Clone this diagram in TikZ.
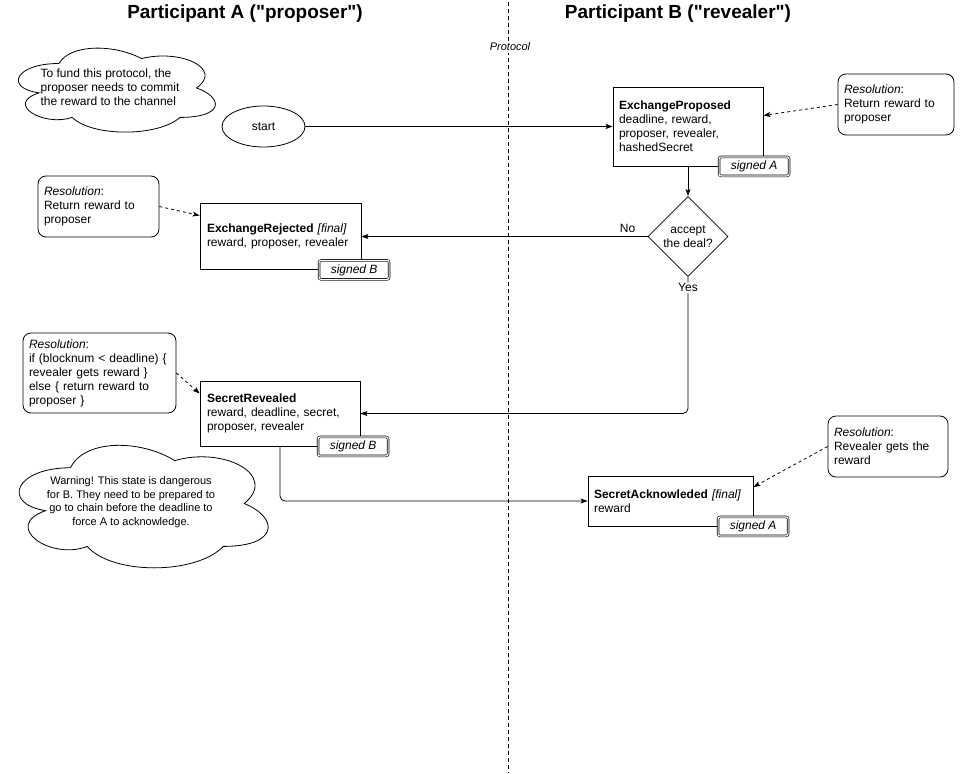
\documentclass[tikz,border=0pt]{standalone}
\usepackage{fontspec}
\setmainfont{Liberation Sans}
\usetikzlibrary{arrows.meta, shapes.geometric, positioning, calc}

% cloud outline: x, y, width, height (picture units)
\newcommand{\cloudshape}[4]{%
  \draw[fill=white, shift={(#1,#2)}, xscale=#3, yscale=#4]
    (0.25,0.25) .. controls (0.05,0.25) and (0,0.5) .. (0.16,0.55)
    .. controls (0,0.66) and (0.18,0.9) .. (0.31,0.8)
    .. controls (0.4,1) and (0.7,1) .. (0.8,0.8)
    .. controls (1,0.8) and (1,0.6) .. (0.875,0.5)
    .. controls (1,0.3) and (0.8,0.1) .. (0.625,0.2)
    .. controls (0.5,0.05) and (0.3,0.05) .. (0.25,0.25) -- cycle;}

\begin{document}
\begin{tikzpicture}[
        x=1pt, y=-1pt,
        font=\fontsize{12}{14}\selectfont,
        line width=0.8pt,
        state/.style={draw, fill=white, align=left, inner xsep=6pt, inner ysep=0pt}, % State box
        note/.style={draw, rounded corners=8pt, align=left, inner xsep=6pt, inner ysep=0pt, minimum height=61pt}, % Resolution box
        tag/.style={draw, double, double distance=1.2pt, line width=0.6pt, rounded corners=2pt, fill=white,
            minimum width=70pt, minimum height=19pt, inner sep=0pt, font=\fontsize{12}{14}\selectfont\itshape},
        decision/.style={draw, diamond, aspect=1, minimum size=80pt, inner sep=0pt, align=center},
        terminal/.style={draw, ellipse, minimum width=83pt, minimum height=41pt},
        heading/.style={font=\fontsize{19}{22}\selectfont\bfseries},
        flow/.style={-{Stealth[length=7pt, width=5pt, inset=1.5pt]}}, % Arrow styling
        resolve/.style={flow, dash pattern=on 3pt off 3pt}
        ]
        \useasboundingbox (0,0) rectangle (960,773);

        % Swim lanes
        \coordinate (laneTop) at (508,2);
        \coordinate (laneBottom) at (508,773);
        \draw[line width=0.6pt, dash pattern=on 4pt off 3pt] (laneTop) -- (laneBottom);
        \node (protocol) [fill=white, inner sep=2pt, font=\fontsize{11}{13}\selectfont\itshape] at (510,47) {Protocol};
        \node (headA) [heading] at (245,14) {Participant A (\textquotedbl proposer\textquotedbl)};
        \node (headB) [heading] at (678,14) {Participant B (\textquotedbl revealer\textquotedbl)};

        % Clouds
        \cloudshape{4}{39}{220}{98}
        \node (fundText) [align=left] at (110,87) {To fund this protocol, the\\proposer needs to commit\\the reward to the channel};
        \cloudshape{1}{432}{278}{143}
        \node (warnText) [align=center, font=\fontsize{11}{13.7}\selectfont] at (131,502) {Warning! This state is dangerous\\for B. They need to be prepared to\\go to chain before the deadline to\\force A to acknowledge.};

        % Define nodes
        \node (start) [terminal] at (263.5,126.5) {start};
        \node (proposed) [state, text width=138pt, minimum height=79pt] at (688,126.5) {\textbf{ExchangeProposed}\\deadline, reward,\\proposer, revealer,\\hashedSecret};
        \node (accept) [decision] at (688,236.5) {accept\\the deal?};
        \node (rejected) [state, inner xsep=7pt, text width=147pt, minimum height=66pt] at (280.5,236.5) {\textbf{ExchangeRejected} \textit{[final]}\\reward, proposer, revealer};
        \node (revealed) [state, inner xsep=7pt, text width=146pt, minimum height=65pt] at (280,413.5) {\textbf{SecretRevealed}\\reward, deadline, secret,\\proposer, revealer};
        \node (ack) [state, text width=153pt, minimum height=50pt] at (670.5,501) {\textbf{SecretAcknowleded} \textit{[final]}\\reward};

        % Signatures
        \node (signedProposed) [tag, anchor=east] at ([xshift=26pt]proposed.south east) {signed A};
        \node (signedRejected) [tag, anchor=east] at ([xshift=28pt]rejected.south east) {signed B};
        \node (signedRevealed) [tag, anchor=east] at ([xshift=28pt]revealed.south east) {signed B};
        \node (signedAck) [tag, anchor=east] at ([xshift=35pt]ack.south east) {signed A};

        % Resolutions
        \node (noteProposed) [note, text width=104pt] at (896,104.5) {\textit{Resolution}:\\Return reward to\\proposer};
        \node (noteRejected) [note, text width=109pt] at (98.5,206.5) {\textit{Resolution}:\\Return reward to\\proposer};
        \node (noteRevealed) [note, text width=141pt, minimum height=80pt] at (99.5,373) {\textit{Resolution}:\\if (blocknum < deadline) \{\\revealer gets reward \}\\else \{ return reward to\\proposer \}};
        \node (noteAck) [note, text width=108pt] at (888,446.5) {\textit{Resolution}:\\Revealer gets the\\reward};

        % Draw arrows
        \draw[flow] (start) -- (proposed);
        \draw[flow] (proposed) -- (accept);
        \draw[flow] (accept) -- node[pos=0.07, above] {No} (rejected);
        \draw[flow, rounded corners=5pt] (accept.south) |- node[pos=0.04, fill=white, inner sep=1pt] {Yes} (revealed.east);
        \draw[flow, rounded corners=5pt] (revealed.south) |- (ack.west);

        % Draw resolution arrows
        \draw[resolve] (noteProposed.west) -- ([yshift=11pt]proposed.east);
        \draw[resolve] (noteRejected.east) -- ([yshift=21pt]rejected.west);
        \draw[resolve] (noteRevealed.east) -- ([yshift=20pt]revealed.west);
        \draw[resolve] (noteAck.west) -- ([yshift=14pt]ack.east);

    \end{tikzpicture}
\end{document}
